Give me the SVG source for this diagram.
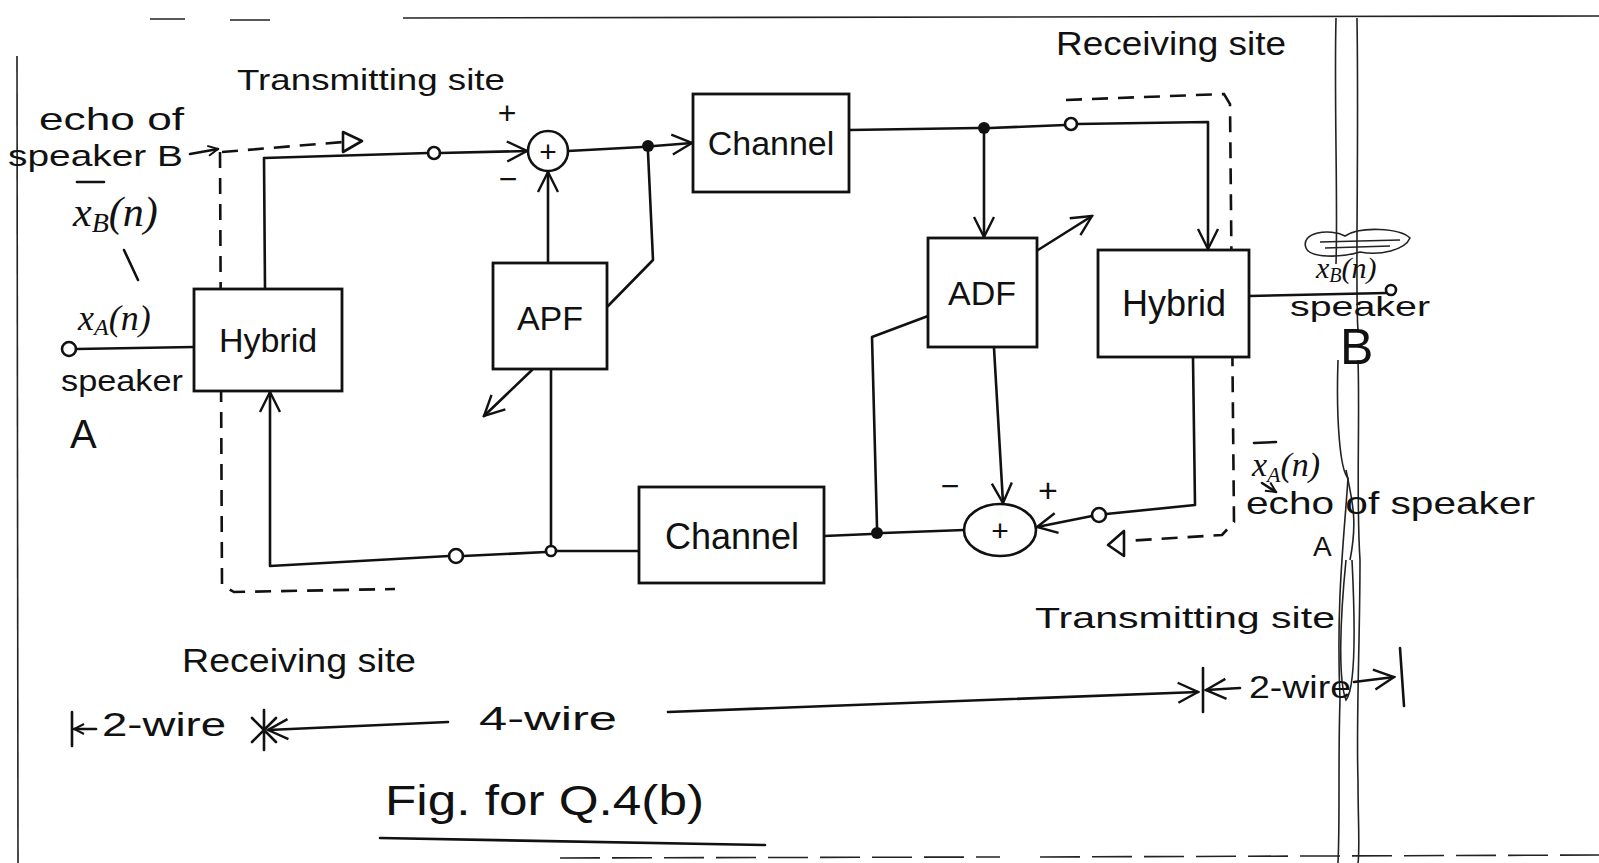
<svg xmlns="http://www.w3.org/2000/svg" width="1599" height="863" viewBox="0 0 1599 863">
<defs>
<style>
.ln{fill:none;stroke:#111;stroke-width:2.6;stroke-linecap:round;stroke-linejoin:round}
.dash{fill:none;stroke:#111;stroke-width:2.6;stroke-dasharray:16 10}
.box{fill:#fff;stroke:#111;stroke-width:2.8}
.t{font-family:"Liberation Sans",Arial,sans-serif;fill:#111}
.it{font-family:"Liberation Serif",serif;font-style:italic;fill:#111}
.thin{fill:none;stroke:#222;stroke-width:1.6}
</style>
<marker id="ar" viewBox="0 0 12 12" refX="11" refY="6" markerWidth="12" markerHeight="12" markerUnits="userSpaceOnUse" orient="auto">
<path d="M1,1 L11,6 L1,11" fill="none" stroke="#111" stroke-width="2"/>
</marker>
<marker id="arL" viewBox="0 0 24 24" refX="22" refY="12" markerWidth="24" markerHeight="24" markerUnits="userSpaceOnUse" orient="auto">
<path d="M2,2 L22,12 L2,22" fill="none" stroke="#111" stroke-width="2.4"/>
</marker>
</defs>
<rect width="1599" height="863" fill="#fff"/>

<g id="page-frame">
<path class="thin" d="M17,56 L18,863"/>
<path class="thin" d="M403,18 L1599,16"/>
<path class="thin" d="M150,19 L185,19 M230,20 L270,20"/>
<path class="thin" d="M560,858 L1000,857 M1040,857 L1599,855" stroke-dasharray="40 12"/>
<path class="thin" d="M1336,18 C1334,100 1338,200 1336,264 M1357,18 C1359,150 1355,300 1358,330"/>
<path class="thin" d="M1338,360 C1336,420 1340,470 1348,478 C1344,540 1336,600 1340,700 C1338,760 1340,820 1338,863"/>
<path class="thin" d="M1358,360 C1360,420 1356,500 1360,560 C1360,640 1356,720 1358,780 C1358,820 1360,850 1358,863"/>
<path class="thin" d="M1346,470 C1352,500 1358,520 1350,560 M1346,560 C1340,620 1338,680 1346,700 C1354,690 1356,640 1352,560"/>
<path class="thin" d="M1306,248 C1300,232 1330,228 1345,236 C1360,226 1400,228 1410,238 C1405,250 1380,256 1360,252 C1340,258 1310,258 1306,248 Z M1320,242 L1400,240 M1325,248 L1390,246"/>
</g>

<g id="connectors">
<path class="ln" d="M265,289 L264,158 L428,153"/>
<path class="ln" d="M440,153 L527,151" marker-end="url(#arL)"/>
<path class="ln" d="M568,151 L642,147"/>
<path class="ln" d="M654,146 L692,143" marker-end="url(#arL)"/>
<path class="ln" d="M648,152 L653,260 L608,306"/>
<path class="ln" d="M548,263 L548,172" marker-end="url(#arL)"/>
<path class="ln" d="M532,370 L484,416" marker-end="url(#arL)"/>
<path class="ln" d="M551,370 L551,546"/>
<path class="ln" d="M639,551 L556,551 M546,552 L463,556"/>
<path class="ln" d="M449,556 L270,566 L270,392" marker-end="url(#arL)"/>
<path class="ln" d="M824,536 L871,534 M883,533 L964,530"/>
<path class="ln" d="M877,527 L872,337 L928,316"/>
<path class="ln" d="M849,130 L978,128 M990,128 L1065,125"/>
<path class="ln" d="M1077,124 L1208,122 L1208,249" marker-end="url(#arL)"/>
<path class="ln" d="M984,134 L984,237" marker-end="url(#arL)"/>
<path class="ln" d="M1038,250 L1092,216" marker-end="url(#arL)"/>
<path class="ln" d="M994,348 L1003,503" marker-end="url(#arL)"/>
<path class="ln" d="M1193,358 L1195,505 L1106,514"/>
<path class="ln" d="M1092,516 L1037,527" marker-end="url(#arL)"/>
<path class="ln" d="M1249,296 L1386,293"/>
<path class="ln" d="M76,349 L194,347"/>
<path class="ln" d="M124,250 L138,280"/>
<path class="ln" d="M190,154 L218,149" marker-end="url(#ar)"/>
<path class="dash" d="M222,152 L343,142"/>
<path class="ln" d="M343,132 L343,152 L362,141 Z"/>
<path class="dash" d="M220,152 L222,585 L234,592 L395,589"/>
<path class="dash" d="M1066,100 L1224,94 L1230,104 L1234,522 L1222,535 L1126,541"/>
<path class="ln" d="M1124,531 L1124,556 L1108,545 Z"/>
<path class="ln" d="M1262,483 L1276,492" marker-end="url(#ar)"/>
<circle class="ln" cx="434" cy="153" r="6"/>
<circle cx="648" cy="146" r="6" fill="#111"/>
<circle class="ln" cx="551" cy="551" r="5"/>
<circle class="ln" cx="456" cy="556" r="7"/>
<circle cx="877" cy="533" r="6" fill="#111"/>
<circle cx="984" cy="128" r="6" fill="#111"/>
<circle class="ln" cx="1071" cy="124" r="6"/>
<circle class="ln" cx="1099" cy="515" r="7"/>
<circle class="ln" cx="1391" cy="290" r="5"/>
<circle class="ln" cx="69" cy="349" r="7"/>
</g>

<g id="hybrid-left">
<rect class="box" x="194" y="289" width="148" height="102"/>
<text class="t" x="268" y="352" font-size="34" text-anchor="middle">Hybrid</text>
</g>
<g id="apf">
<rect class="box" x="493" y="263" width="114" height="106"/>
<text class="t" x="550" y="330" font-size="34" text-anchor="middle">APF</text>
</g>
<g id="channel-top">
<rect class="box" x="693" y="94" width="156" height="98"/>
<text class="t" x="771" y="155" font-size="34" text-anchor="middle">Channel</text>
</g>
<g id="adf">
<rect class="box" x="928" y="238" width="109" height="109"/>
<text class="t" x="982" y="305" font-size="34" text-anchor="middle">ADF</text>
</g>
<g id="hybrid-right">
<rect class="box" x="1098" y="250" width="151" height="107"/>
<text class="t" x="1174" y="316" font-size="36" text-anchor="middle">Hybrid</text>
</g>
<g id="channel-bottom">
<rect class="box" x="639" y="487" width="185" height="96"/>
<text class="t" x="732" y="549" font-size="36" text-anchor="middle">Channel</text>
</g>
<g id="sum-top">
<circle class="ln" cx="548" cy="151" r="20" fill="#fff"/>
<text class="t" x="548" y="162" font-size="30" text-anchor="middle">+</text>
<text class="t" x="507" y="124" font-size="32" text-anchor="middle">+</text>
<text class="t" x="508" y="190" font-size="32" text-anchor="middle">−</text>
</g>
<g id="sum-bottom">
<ellipse class="ln" cx="1000" cy="530" rx="36" ry="26" fill="#fff"/>
<text class="t" x="1000" y="541" font-size="30" text-anchor="middle">+</text>
<text class="t" x="950" y="497" font-size="32" text-anchor="middle">−</text>
<text class="t" x="1048" y="502" font-size="34" text-anchor="middle">+</text>
</g>

<g id="labels">
<text class="t" x="39" y="130" font-size="32" textLength="145" lengthAdjust="spacingAndGlyphs">echo of</text>
<text class="t" x="8" y="166" font-size="29" textLength="175" lengthAdjust="spacingAndGlyphs">speaker B</text>
<path class="ln" d="M77,182 L104,182"/>
<text class="it" x="73" y="226" font-size="42">x<tspan font-size="28" dy="6">B</tspan><tspan dy="-6">(n)</tspan></text>
<text class="it" x="78" y="330" font-size="36">x<tspan font-size="24" dy="5">A</tspan><tspan dy="-5">(n)</tspan></text>
<text class="t" x="61" y="391" font-size="30" textLength="122" lengthAdjust="spacingAndGlyphs">speaker</text>
<text class="t" x="70" y="448" font-size="40">A</text>
<text class="t" x="237" y="90" font-size="30" textLength="268" lengthAdjust="spacingAndGlyphs">Transmitting site</text>
<text class="t" x="1056" y="55" font-size="34" textLength="230" lengthAdjust="spacingAndGlyphs">Receiving site</text>
<text class="it" x="1316" y="278" font-size="30">x<tspan font-size="20" dy="4">B</tspan><tspan dy="-4">(n)</tspan></text>
<text class="t" x="1290" y="316" font-size="28" textLength="140" lengthAdjust="spacingAndGlyphs">speaker</text>
<text class="t" x="1340" y="364" font-size="50">B</text>
<path class="ln" d="M1254,443 L1276,442"/>
<text class="it" x="1252" y="476" font-size="34">x<tspan font-size="22" dy="6">A</tspan><tspan dy="-6">(n)</tspan></text>
<text class="t" x="1246" y="514" font-size="32" textLength="289" lengthAdjust="spacingAndGlyphs">echo of speaker</text>
<text class="t" x="1313" y="556" font-size="28">A</text>
<text class="t" x="1035" y="628" font-size="30" textLength="300" lengthAdjust="spacingAndGlyphs">Transmitting site</text>
<text class="t" x="182" y="672" font-size="33" textLength="234" lengthAdjust="spacingAndGlyphs">Receiving site</text>
<text class="t" x="102" y="736" font-size="34" textLength="124" lengthAdjust="spacingAndGlyphs">2-wire</text>
<text class="t" x="479" y="730" font-size="34" textLength="138" lengthAdjust="spacingAndGlyphs">4-wire</text>
<text class="t" x="1249" y="698" font-size="32" textLength="102" lengthAdjust="spacingAndGlyphs">2-wire</text>
<text class="t" x="385" y="815" font-size="42" textLength="319" lengthAdjust="spacingAndGlyphs">Fig. for Q.4(b)</text>
</g>

<g id="dimension-lines">
<path class="ln" d="M72,712 L72,746"/>
<path class="ln" d="M96,729 L74,729" marker-end="url(#ar)"/>
<path class="ln" d="M448,722 L268,730" marker-end="url(#arL)"/>
<path class="ln" d="M264,710 L264,750 M252,718 L276,742 M252,742 L276,718"/>
<path class="ln" d="M668,712 L1198,692" marker-end="url(#arL)"/>
<path class="ln" d="M1203,668 L1203,712"/>
<path class="ln" d="M1240,688 L1206,690" marker-end="url(#arL)"/>
<path class="ln" d="M1354,682 L1394,677" marker-end="url(#arL)"/>
<path class="ln" d="M1400,648 L1404,706"/>
<path class="ln" d="M380,838 L765,845"/>
</g>
</svg>
